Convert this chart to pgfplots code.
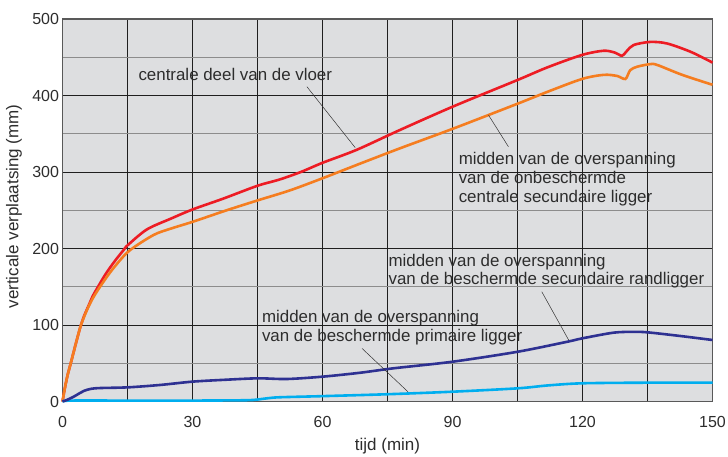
\documentclass[border=0pt]{standalone}
\usepackage{fontspec}
\setmainfont{Liberation Sans}
\usepackage{pgfplots}
\pgfplotsset{compat=1.18}
\definecolor{bg}{RGB}{221,222,224}
\definecolor{cred}{RGB}{237,28,36}
\definecolor{corange}{RGB}{245,125,32}
\definecolor{cnavy}{RGB}{46,49,146}
\definecolor{ccyan}{RGB}{0,174,239}
\definecolor{txt}{RGB}{45,45,45}
\begin{document}
\begin{tikzpicture}
\useasboundingbox (0,0) rectangle (728pt,457pt);
\begin{axis}[
 at={(62.5pt,55.5pt)}, anchor=south west,
 scale only axis, width=650pt, height=382.5pt,
 xmin=0, xmax=150, ymin=0, ymax=500,
 axis background/.style={fill=bg},
 xtick={0,15,...,150},
 xticklabels={\raisebox{5pt}{0},,30,,60,,90,,120,,150},
 ytick={0,100,...,500}, minor ytick={50,150,...,450},
 grid=both,
 major grid style={black!88, line width=0.8pt},
 minor grid style={black!45, line width=0.8pt},
 major tick length=0pt, minor tick length=0pt,
 axis line style={draw=black!65, line width=1.5pt},
 tick label style={font=\fontsize{16}{19}\selectfont, text=txt},
 /pgf/number format/assume math mode=true,
 xticklabel style={yshift=-11pt},
 xlabel={tijd (min)}, ylabel={verticale verplaatsing (mm)},
 label style={font=\fontsize{17}{20}\selectfont, text=txt},
 xlabel style={at={(axis description cs:0.5,-0.1163)}, anchor=center},
 ylabel style={at={(axis description cs:-0.0746,0.51)}, anchor=center},
 clip=false,
]
\addplot[cred, line width=2.6pt, smooth, tension=0.5] coordinates {
(0,0) (0.3,10) (0.7,22) (1.2,35) (2,52) (3,74) (4.1,97) (5,112) (6,125) (7,138)
(8.2,150) (10,167) (12,183)
(14.1,198) (15.1,204.6) (19.5,225) (25,239) (30,251) (37,265) (45,282) (50,290)
(55,300) (60,312) (67.9,329) (77.9,355) (90.3,386) (104.9,420) (112,437) (119.9,453)
(124.9,458.5) (127.5,456) (129.1,452) (130.3,458.6) (131.8,466) (135.6,470)
(139.5,468) (145,457) (150,443)};
\addplot[corange, line width=2.6pt, smooth, tension=0.5] coordinates {
(0,0) (0.3,10) (0.7,22) (1.2,35) (2,52) (3,74) (4.1,97) (5,111) (6,124) (7,135)
(8.2,146) (10,161) (12,176)
(15.4,197) (21,217.6) (25,226) (30.1,235) (37.9,250) (45.1,263) (52.5,276)
(60.1,292) (68.7,311) (77.9,331) (90.3,357) (104.9,389) (112,405) (119.9,421.6)
(124.9,427) (128,425.5) (129.9,421.6) (131,433) (132.6,437.6) (135.6,441)
(137.2,440) (143,427) (150,414)};
\addplot[ccyan, line width=2.6pt, smooth, tension=0.5] coordinates {
(0,0) (2,1.2) (15,1.2) (30,1.2) (40,1.5) (44,2) (47,4) (50,5.5) (60,7) (75,9.5)
(90,12.8) (105,17.2) (112,21) (120,23.8) (135,24.6) (150,24.6)};
\addplot[cnavy, line width=2.6pt, smooth, tension=0.5] coordinates {
(0,0) (1,2) (2.5,6) (4,11) (5,14) (6.5,16.5) (8.7,17.6) (15.1,18.5) (22.5,21.6)
(30.1,26) (37.9,28.5) (45.1,30.3) (51.8,29.4) (60.1,32.5) (68.7,37.6) (76.4,43.4)
(90,52) (105,65) (116.4,78) (120,82.6) (127.2,90) (131.8,91) (135,90.4)
(142.6,85.6) (150,80.4)};
% annotations
\tikzset{ann/.style={anchor=base west, inner sep=0pt, font=\fontsize{16.9}{19}\selectfont, text=txt}}
\node[ann] at (axis cs:17.5,419.3) {centrale deel van de vloer};
\draw[black!80, line width=0.5pt] (axis cs:56.4,411.5) -- (axis cs:67.55,331.8);
\node[ann] at (axis cs:91.4,309.2) {midden van de overspanning};
\node[ann] at (axis cs:91.4,284.4) {van de onbeschermde};
\node[ann] at (axis cs:91.4,259.6) {centrale secundaire ligger};
\draw[black!80, line width=0.5pt] (axis cs:102.9,333.1) -- (axis cs:98.3,374.5);
\node[ann] at (axis cs:75.2,177.1) {midden van de overspanning};
\node[ann] at (axis cs:75.2,152.3) {van de beschermde secundaire randligger};
\draw[black!80, line width=0.5pt] (axis cs:110.6,143.5) -- (axis cs:116.8,80.4);
\node[ann] at (axis cs:46.0,103) {midden van de overspanning};
\node[ann] at (axis cs:46.0,78.2) {van de beschermde primaire ligger};
\draw[black!80, line width=0.5pt] (axis cs:69.1,69.5) -- (axis cs:79.7,12.8);
\end{axis}
\end{tikzpicture}
\end{document}
